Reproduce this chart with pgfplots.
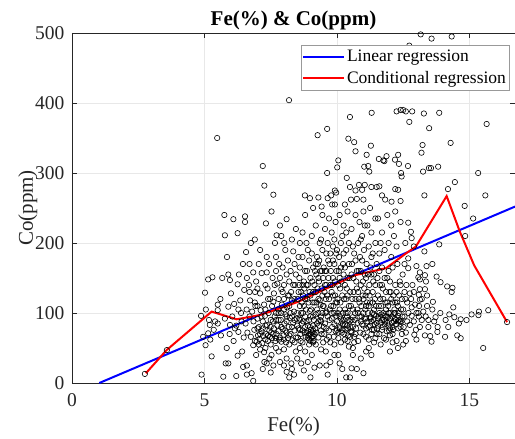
\documentclass[border=0pt]{standalone}
\usepackage{pgfplots}
\pgfplotsset{compat=1.18}
\usepackage{fontspec}
\setmainfont{Liberation Serif}
\definecolor{axgray}{RGB}{38,38,38}
\begin{document}
\begin{tikzpicture}
\begin{axis}[
  scale only axis,
  width=443pt, height=350pt,
  xmin=0, xmax=16.72, ymin=0, ymax=500,
  xtick={0,5,10,15}, ytick={0,100,200,300,400,500},
  /pgf/number format/assume math mode=true,
  tick label style={font=\fontsize{19.5}{21}\selectfont, text=axgray},
  xticklabel style={yshift=-7pt},
  yticklabel style={xshift=-4pt},
  tick align=inside, major tick length=5pt,
  tick style={axgray, line width=0.5pt},
  axis line style={axgray, line width=0.6pt},
  grid=major, grid style={gray!18, line width=0.5pt},
  xlabel={Fe(\%)}, ylabel={Co(ppm)},
  label style={font=\fontsize{21}{23}\selectfont, text=axgray},
  xlabel style={yshift=-3pt},
  ylabel style={yshift=-9pt},
  title={Fe(\%) \& Co(ppm)},
  title style={font=\bfseries\fontsize{21}{24}\selectfont, yshift=-7pt},
  legend style={at={(0.987,0.966)}, anchor=north east, draw=gray!80, fill=white,
    font=\fontsize{17.5}{20}\selectfont, inner xsep=1pt, inner ysep=3pt, row sep=4pt, line width=0.6pt},
  legend cell align=left,
  legend image code/.code={\draw[#1] (0pt,0pt) -- (41pt,0pt);},
]
\addplot[only marks, black, mark=o, mark size=2.7pt, mark options={line width=0.6pt}, forget plot] table {
x y
2.75 13
3.58 47
4.87 96
4.89 12
5.02 129
5.04 54
5.14 148
5.14 71
5.17 90
5.2 83
5.27 38
5.3 151
5.4 88
5.48 350
5.5 112
5.5 104
5.5 85
5.05 105
5.35 76
5.22 62
4.95 66
5.67 150
5.75 240
5.77 211
5.77 92
5.84 50
5.9 155
5.9 109
5.9 28
5.8 28
5.71 9
5.96 147
5.96 83
6.09 234
6.15 78
6.2 10
6.25 214
6.25 141
6.25 39
6.28 105
6.28 73
6.46 23
6.5 133
6.53 238
6.53 230
5.6 120
5.62 68
6.05 95
6.1 60
6.35 118
6.4 88
6.42 45
6.3 155
6.45 170
5.85 180
6.0 128
6.38 100
6.2 82
6.12 113
5.95 70
6.48 65
6.57 187
6.59 105
6.6 25
6.6 12
6.78 14
6.84 158
6.84 54
6.84 3
6.91 130
6.97 59
7.1 128
7.1 48
7.16 157
7.26 30
7.3 140
7.32 228
7.35 180
7.35 158
7.35 28
7.48 120
6.55 85
6.62 72
6.7 95
6.72 118
6.75 66
6.8 102
6.85 88
6.88 76
6.92 110
6.95 145
7.0 92
7.02 68
7.05 80
7.08 63
7.12 104
7.15 74
7.18 57
7.2 88
7.22 67
7.25 112
7.28 96
7.3 62
7.33 70
7.36 83
7.4 60
7.42 100
7.45 75
7.47 66
7.38 135
7.44 170
7.1 190
6.9 205
7.2 310
7.26 282
6.95 40
7.25 44
7.45 35
6.68 140
7.05 170
7.53 245
7.53 40
7.6 116
7.6 25
7.66 200
7.72 211
7.72 70
7.7 180
7.7 160
7.85 65
7.9 134
7.9 59
8.0 120
8.0 48
8.0 25
8.1 16
8.2 8
8.01 200
8.1 234
8.2 145
8.27 130
8.19 404
7.6 269
7.52 72
7.55 64
7.58 88
7.62 78
7.65 95
7.68 60
7.75 82
7.78 105
7.8 74
7.82 62
7.88 90
7.92 112
7.95 77
7.98 68
8.02 85
8.05 98
8.08 58
8.1 72
8.12 108
8.15 64
8.18 80
8.22 93
8.25 70
8.3 118
8.32 61
8.35 86
8.38 102
8.4 75
8.42 140
8.45 155
8.48 92
7.57 150
7.75 142
7.82 170
7.95 165
8.05 190
8.15 175
8.3 205
8.45 220
8.35 188
7.9 210
7.62 128
8.25 160
8.4 170
8.1 35
8.3 20
8.45 45
7.7 50
8.2 55
7.85 30
8.38 12
8.28 28
7.85 225
8.52 65
8.55 78
8.58 92
8.6 110
8.62 70
8.65 130
8.68 85
8.7 58
8.72 100
8.75 145
8.78 72
8.8 160
8.82 66
8.85 88
8.88 120
8.9 74
8.92 68
8.95 62
8.98 80
9.0 70
9.02 76
9.05 64
9.08 72
9.1 95
9.12 67
9.15 140
9.18 78
9.2 130
9.22 155
9.25 105
9.28 170
9.3 88
9.32 145
9.35 118
9.38 160
9.4 75
9.42 135
9.45 190
9.48 150
8.55 180
8.6 200
8.7 215
8.8 240
8.9 190
8.95 175
9.05 210
9.1 250
9.2 225
9.3 265
9.4 205
9.45 240
8.65 28
8.8 45
8.9 30
9.0 8
9.05 40
9.2 55
9.35 25
9.4 48
9.48 58
8.75 18
9.15 22
9.27 354
8.79 268
8.98 264
9.42 252
8.6 50
8.98 103
9.08 115
9.2 98
9.33 82
9.45 100
8.72 125
8.85 140
9.0 150
9.1 165
9.25 180
9.38 112
8.95 55
9.12 60
9.3 65
9.42 70
8.58 150
8.85 72
8.9 64
8.95 70
9.05 66
9.1 75
9.15 70
9.63 363
9.63 300
9.65 264
9.78 268
9.92 275
9.97 272
9.92 255
9.82 255
10.05 318
10.01 308
10.37 293
10.49 280
10.3 255
10.43 349
10.49 380
9.52 70
9.55 85
9.58 120
9.6 140
9.62 62
9.65 95
9.68 150
9.7 75
9.72 170
9.75 58
9.78 110
9.8 130
9.82 80
9.85 195
9.88 66
9.9 100
9.92 145
9.95 74
9.98 160
10.0 88
10.02 120
10.05 64
10.08 180
10.1 78
10.12 135
10.15 92
10.18 72
10.2 210
10.22 84
10.25 155
10.28 70
10.3 105
10.32 76
10.35 190
10.38 82
10.4 125
10.42 68
10.45 170
10.48 88
9.55 220
9.7 235
9.8 215
9.95 230
10.1 240
10.25 225
10.4 245
9.6 185
9.9 205
10.15 200
10.35 215
9.58 45
9.75 30
9.9 55
10.05 40
10.2 20
10.35 8
10.45 52
9.65 12
10.15 58
9.5 165
9.85 175
10.0 115
10.3 140
10.45 110
9.72 90
9.98 96
10.22 100
10.38 95
9.6 102
10.1 150
9.85 125
10.1 80
10.2 76
10.3 84
10.4 78
10.05 72
10.25 90
9.3 150
9.55 160
9.75 140
10.49 8
10.55 21
11.0 14
10.53 262
10.65 344
10.7 331
10.7 275
10.75 263
10.83 283
10.95 276
11.03 309
11.05 283
11.18 310
11.22 302
11.28 339
11.12 326
11.3 280
11.31 386
11.5 280
11.0 262
10.52 74
10.55 90
10.58 120
10.6 80
10.62 150
10.65 66
10.68 100
10.7 175
10.72 78
10.75 135
10.78 86
10.8 60
10.82 160
10.85 95
10.88 72
10.9 205
10.92 110
10.95 84
10.98 145
11.0 70
11.02 190
11.05 92
11.08 125
11.1 78
11.12 170
11.15 88
11.18 100
11.2 62
11.22 140
11.25 82
11.28 94
11.3 180
11.32 76
11.35 115
11.38 90
11.4 155
11.42 84
11.45 200
11.48 96
10.55 220
10.7 240
10.85 230
11.0 245
11.15 225
11.3 215
11.45 235
10.6 195
10.95 210
11.25 250
10.6 40
10.75 20
10.9 35
11.2 50
11.4 58
11.1 45
10.8 130
11.05 155
11.35 130
10.65 58
11.2 80
11.3 88
11.4 76
11.25 92
10.9 160
11.1 110
11.58 320
11.75 318
11.87 324
11.6 281
11.7 268
11.82 262
12.06 259
12.19 319
12.31 326
12.31 276
12.2 277
12.4 260
12.44 295
12.42 300
12.25 388
12.4 390
11.79 317
12.34 313
11.52 78
11.55 92
11.58 110
11.6 70
11.62 140
11.65 86
11.68 98
11.7 165
11.72 80
11.75 120
11.78 64
11.8 190
11.82 88
11.85 105
11.88 74
11.9 150
11.92 94
11.95 82
11.98 130
12.0 68
12.02 100
12.05 180
12.08 86
12.1 115
12.12 76
12.15 210
12.18 92
12.2 140
12.22 84
12.25 60
12.28 170
12.3 96
12.32 78
12.35 125
12.38 88
12.4 230
12.42 105
12.45 70
12.48 155
11.55 235
11.7 215
11.9 240
12.05 225
12.2 245
11.65 55
11.85 62
12.1 58
12.3 50
11.95 200
12.25 195
11.6 185
11.7 90
11.8 84
11.95 100
12.15 88
12.5 390
12.6 388
12.73 373
12.73 482
12.84 388
13.16 498
13.28 385
13.48 364
13.23 340
13.19 329
12.68 310
13.25 302
13.47 307
13.3 268
12.69 229
12.79 216
12.82 207
13.3 188
12.69 178
12.69 164
13.0 167
13.38 167
13.13 158
13.32 154
13.07 151
13.13 148
13.36 145
13.13 134
13.32 134
13.09 126
12.75 128
13.13 119
12.82 108
13.26 102
13.07 100
12.82 96
13.09 95
13.45 90
12.75 83
13.13 80
13.45 80
12.92 69
13.32 68
13.52 67
12.52 80
12.55 95
12.58 120
12.6 72
12.62 140
12.65 88
12.55 170
12.6 60
12.9 88
12.95 112
12.98 76
13.2 90
13.4 110
12.85 140
12.58 200
12.9 195
13.0 62
12.7 100
13.57 492
14.33 495
13.86 386
13.82 309
13.55 307
14.29 343
14.19 277
14.45 287
13.86 198
13.6 170
13.76 152
13.91 144
14.16 138
14.36 136
14.33 130
13.62 116
14.39 108
14.24 98
14.43 94
14.2 80
13.79 73
13.8 80
13.67 88
13.72 94
14.08 66
13.57 59
13.6 105
13.9 100
14.1 90
14.82 253
15.14 235
14.84 210
14.54 68
14.67 64
14.67 91
14.89 90
15.08 98
15.34 97
15.36 102
15.33 300
14.6 85
15.52 50
15.71 104
15.65 370
15.6 268
16.42 87
6.6 150
6.7 170
6.75 200
6.9 115
7.0 135
7.05 55
7.15 95
7.3 105
7.4 120
7.5 90
7.55 110
7.65 140
7.7 100
7.8 120
7.85 150
7.9 100
7.95 130
8.0 140
8.05 75
8.1 155
8.15 125
8.2 110
8.25 100
8.3 80
8.35 140
8.4 120
8.45 65
8.5 100
8.55 130
8.6 165
8.65 100
8.7 180
8.75 110
8.8 120
8.85 200
8.9 140
8.95 90
9.0 125
9.05 185
9.1 130
9.15 115
9.2 170
9.25 85
9.3 120
9.35 200
9.4 95
9.45 125
9.5 110
9.55 140
9.6 160
9.65 200
9.7 120
9.75 185
9.8 100
9.85 150
9.9 170
9.95 115
10.0 190
10.05 140
10.1 105
10.15 165
10.2 125
10.25 185
10.3 165
10.35 120
10.4 150
10.45 200
10.5 130
10.55 155
10.6 105
10.65 185
10.7 120
10.75 160
10.8 200
10.85 115
10.9 140
10.95 175
11.0 120
11.05 225
11.1 150
11.15 130
11.2 195
11.25 115
11.3 155
11.35 185
11.4 105
11.45 140
11.5 170
11.55 125
11.6 160
11.65 200
11.7 140
11.75 100
11.8 150
11.85 130
11.9 115
11.95 160
12.0 145
12.05 120
12.1 165
12.15 100
12.2 115
12.25 130
12.3 110
12.35 90
12.4 140
12.45 120
12.5 105
12.55 130
12.65 115
12.8 120
12.9 130
13.0 100
13.1 110
13.2 120
13.35 95
13.4 125
9.0 95
9.1 82
9.2 72
9.3 100
9.4 88
9.5 80
9.6 78
9.7 66
9.8 92
9.9 84
10.0 76
10.1 96
10.2 88
10.3 62
10.4 100
10.5 80
10.6 94
10.7 70
10.8 100
10.9 88
11.0 100
11.1 92
11.2 110
11.3 70
11.4 98
11.5 86
11.6 100
11.7 76
11.8 96
11.9 86
12.0 92
12.1 80
12.2 100
12.3 88
12.4 80
7.6 70
7.7 64
7.8 90
7.9 80
8.0 62
8.1 88
8.2 68
8.3 95
8.4 58
8.5 82
8.6 90
8.7 75
8.8 95
6.9 60
7.0 78
7.1 70
7.2 78
7.3 82
7.4 68
7.5 80
7.2 20
7.5 15
7.8 45
8.5 35
9.6 25
9.9 40
10.1 28
10.6 50
11.3 40
12.0 45
12.5 55
7.0 110
6.7 130
8.52 120
8.57 140
8.63 60
8.67 115
8.73 88
8.77 135
8.83 105
8.87 160
8.93 115
8.97 130
9.03 105
9.07 145
9.13 90
9.17 160
9.23 115
9.27 135
9.33 175
9.37 90
9.43 160
9.47 110
9.53 130
9.57 100
9.63 125
9.67 175
9.73 105
9.77 160
9.83 140
9.87 110
9.93 125
9.97 185
10.03 100
10.07 160
10.13 115
10.17 145
10.23 170
10.27 120
10.33 100
10.37 135
10.43 90
10.47 150
10.53 110
10.57 170
10.63 130
10.67 90
10.73 145
10.77 105
10.83 120
10.87 180
10.93 95
10.97 125
11.03 135
11.07 105
11.13 115
11.17 155
11.23 125
11.27 165
11.33 100
11.37 145
11.43 120
11.47 110
11.53 150
11.57 95
11.63 120
11.67 110
11.73 135
11.77 90
11.83 115
11.87 95
11.93 110
11.97 75
12.03 130
12.07 95
12.13 125
12.17 105
12.23 90
12.27 115
12.33 100
12.37 145
12.43 88
12.47 95
8.9 82
9.0 60
9.1 58
10.4 60
10.5 66
10.55 72
11.0 82
11.1 66
11.5 70
11.45 64
11.55 82
12.0 78
12.1 70
7.3 50
7.5 55
7.7 90
7.8 100
8.0 105
8.1 95
8.2 125
8.4 90
8.6 76
8.7 140
8.8 80
};
\addplot[blue, line width=2pt] coordinates {(1.03,0) (16.72,252)};
\addlegendentry{Linear regression}
\addplot[red, line width=2pt] coordinates {
(2.79,14) (3.57,47) (5.27,102) (6.21,91) (7.09,97) (8.1,110) (8.53,116)
(10.68,154) (11.5,161) (11.85,164) (12.6,185) (12.98,195) (14.14,267)
(14.64,216) (15.18,168) (16.42,87)};
\addlegendentry{Conditional regression}
\end{axis}
\pgfresetboundingbox
\path[use as bounding box] ([xshift=-72pt,yshift=-55pt]current axis.south west) rectangle ([yshift=33pt]current axis.north east);
\end{tikzpicture}
\end{document}
